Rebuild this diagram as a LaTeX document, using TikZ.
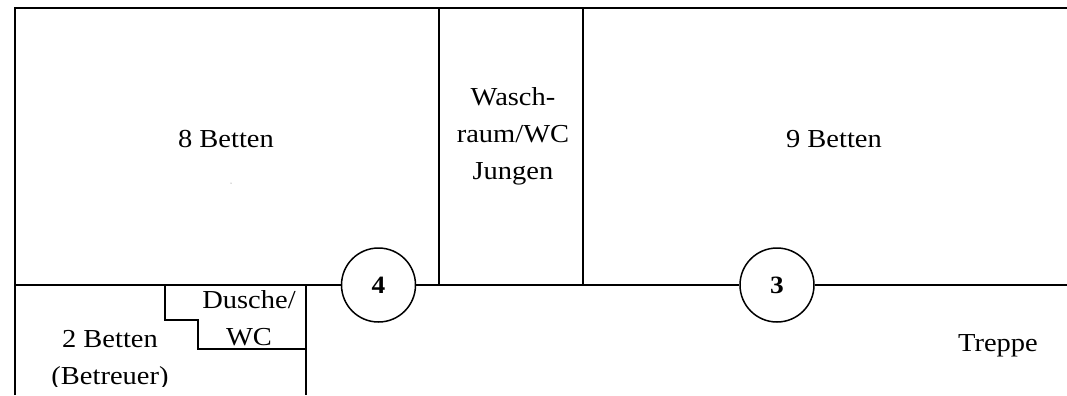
\documentclass[tikz,border=0pt]{standalone}
\usepackage{fontspec}
\setmainfont[FakeStretch=1.1]{Liberation Serif}
\tikzset{
 wall/.style={draw=black,line width=1.6bp},
 lbl/.style={font=\fontsize{26}{37}\selectfont,align=center,inner sep=0pt,text=black},
 stair/.style={draw=black,line width=1.5bp},
 marker/.style={circle,draw=black,line width=1.5bp,fill=white,minimum size=74bp,inner sep=0pt,font=\fontsize{25}{26}\selectfont\bfseries}
}
\begin{document}
\begin{tikzpicture}[x=1bp,y=-1bp]
\useasboundingbox (0,0) rectangle (1067,395);
\begin{scope}
\clip (0,0) rectangle (1067,395);
\coordinate (tl) at (15,8);
\coordinate (tr) at (1067,8);
\coordinate (ml) at (15,285);
\coordinate (mr) at (1067,285);
\coordinate (bl) at (15,395);
\node[marker] (m4) at (378.5,285) {4};
\node[marker] (m3) at (777,285) {3};
\draw[wall] (bl) -- (tl) -- (tr);
\draw[wall] (ml) -- (m4.west);
\draw[wall] (m4.east) -- (m3.west);
\draw[wall] (m3.east) -- (mr);
\draw[wall] (439,8) -- (439,285);
\draw[wall] (583,8) -- (583,285);
\draw[wall] (306,285) -- (306,395);
\draw[stair] (165,285) -- (165,320) -- (198,320) -- (198,349) -- (306,349);
\node[lbl] (a) at (226,139) {8 Betten};
\node[lbl] (b) at (513,136.5) {Wasch-\\raum/WC\\Jungen};
\node[lbl] (c) at (834,139) {9 Betten};
\node[lbl] (d) at (249,318.5) {Dusche/\\WC};
\begin{scope}
\clip (17,287) rectangle (304,386);
\node[lbl] (e) at (110,360) {2 Betten\\(Betreuer)};
\end{scope}
\node[lbl] (f) at (998,345.5) {Treppe};
\fill[black!60] (231,183) circle (0.5);
\end{scope}
\end{tikzpicture}
\end{document}
